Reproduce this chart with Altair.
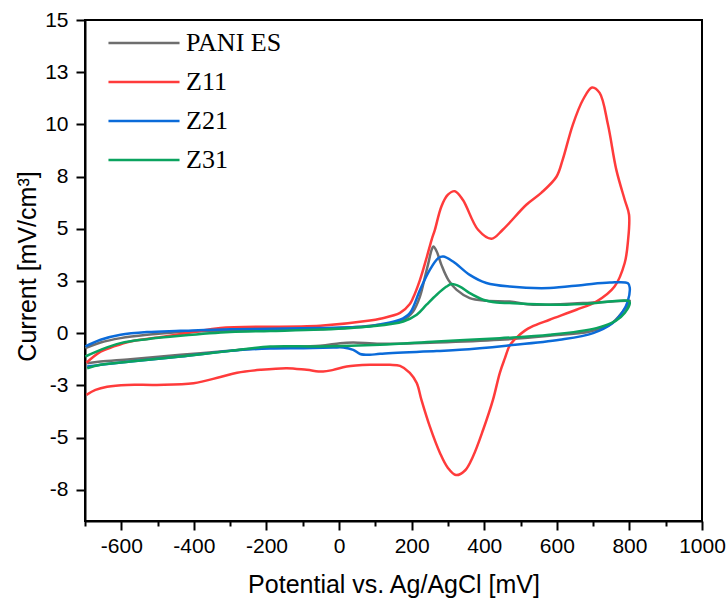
import altair as alt
import pandas as pd

SERIES = ["PANI ES", "Z11", "Z21", "Z31"]
COLORS = ["#6e6e6e", "#ff3b3b", "#0b6bd9", "#0ba35f"]

PANI_X = [-699, -657, -602, -529, -437, -300, -190, -52, 85, 177, 204, 223, 237, 246, 255, 260, 269, 282, 301, 324, 360, 406, 470, 535, 672, 791, 801,
          782, 746, 691, 580, 443, 269, 113, 39, 3, -52, -190, -327, -437, -575, -657, -694]
PANI_Y = [-0.72, -0.45, -0.24, -0.08, 0.05, 0.13, 0.15, 0.19, 0.35, 0.64, 1.04, 1.76, 2.71, 3.35, 3.99, 4.15, 3.91, 3.27, 2.55, 2.07, 1.68, 1.55, 1.51, 1.36, 1.44, 1.55, 1.55,
          1.04, 0.40, 0.08, -0.13, -0.32, -0.45, -0.51, -0.45, -0.48, -0.61, -0.69, -0.88, -1.04, -1.25, -1.36, -1.44]

Z11_X = [-696, -657, -622, -575, -484, -400, -327, -52, 85, 113, 168, 195, 204, 223, 242, 255, 264, 282, 300, 319, 341, 383, 420, 451, 516, 557, 599, 616, 644, 672, 697, 718, 741, 764, 787, 799,
         796, 787, 759, 709, 654, 580, 530, 512, 490, 470, 457, 443, 424, 397, 369, 347, 322, 300, 278, 250, 227, 214, 195, 168, 140, 85, 21, -16, -44, -89, -144, -217, -281, -327, -401, -502, -584, -639, -671, -696]
Z11_Y = [-1.42, -0.89, -0.65, -0.40, -0.17, 0.05, 0.25, 0.35, 0.60, 0.69, 0.97, 1.40, 1.69, 2.55, 3.66, 4.47, 4.95, 6.07, 6.63, 6.80, 6.39, 4.95, 4.52, 4.95, 6.15, 6.72, 7.49, 8.30, 9.98, 11.18, 11.77, 11.51, 9.98, 7.82, 6.39, 5.67,
         4.40, 3.36, 2.23, 1.51, 1.12, 0.64, 0.30, 0.12, -0.20, -0.60, -1.20, -1.90, -3.20, -4.63, -5.91, -6.58, -6.80, -6.46, -5.74, -4.47, -3.20, -2.39, -1.90, -1.57, -1.52, -1.52, -1.60, -1.76, -1.84, -1.76, -1.68, -1.76, -1.90, -2.10, -2.40, -2.48, -2.48, -2.57, -2.72, -2.96]

Z21_X = [-699, -657, -602, -529, -437, -300, -190, -52, 85, 113, 168, 195, 223, 250, 273, 287, 314, 360, 406, 470, 580, 672, 746, 796, 801,
         795, 782, 754, 700, 608, 461, 333, 269, 113, 85, 58, 39, 12, -16, -98, -190, -281, -437, -575, -657, -694]
Z21_Y = [-0.64, -0.32, -0.08, 0.05, 0.11, 0.19, 0.21, 0.25, 0.33, 0.42, 0.64, 0.96, 2.07, 3.03, 3.59, 3.67, 3.43, 2.79, 2.40, 2.23, 2.16, 2.31, 2.42, 2.39, 2.16,
         1.50, 1.04, 0.48, 0.00, -0.32, -0.60, -0.80, -0.86, -0.99, -1.04, -1.00, -0.80, -0.69, -0.69, -0.72, -0.74, -0.82, -1.12, -1.36, -1.52, -1.60]

Z31_X = [-699, -657, -602, -529, -437, -300, -190, -52, 85, 177, 214, 241, 269, 296, 310, 333, 360, 397, 434, 470, 580, 672, 796, 801,
         787, 763, 709, 580, 443, 269, 113, -52, -190, -300, -437, -575, -657, -694]
Z31_Y = [-1.12, -0.80, -0.48, -0.29, -0.13, 0.05, 0.10, 0.17, 0.32, 0.56, 0.88, 1.36, 1.84, 2.23, 2.35, 2.23, 1.92, 1.60, 1.47, 1.44, 1.36, 1.40, 1.55, 1.47,
         0.96, 0.60, 0.24, -0.08, -0.24, -0.40, -0.56, -0.64, -0.64, -0.85, -1.12, -1.36, -1.52, -1.68]

X_TICKS = [-700, -600, -500, -400, -300, -200, -100, 0, 100, 200, 300, 400, 500, 600, 700, 800, 900, 1000]
X_TICK_LABELS = ["", "-600", "", "-400", "", "-200", "", "0", "", "200", "", "400", "", "600", "", "800", "", "1000"]
Y_TICKS = [-7.5, -5, -2.5, 0, 2.5, 5, 7.5, 10, 12.5, 15]
Y_TICK_LABELS = ["-8", "-5", "-3", "0", "3", "5", "8", "10", "13", "15"]

rows = []
for name, xs, ys in [("PANI ES", PANI_X, PANI_Y), ("Z11", Z11_X, Z11_Y),
                     ("Z21", Z21_X, Z21_Y), ("Z31", Z31_X, Z31_Y)]:
    for i, (xv, yv) in enumerate(zip(xs, ys)):
        rows.append({"series": name, "x": xv, "y": yv, "i": i})
df = pd.DataFrame(rows)


def label_expr(values, labels):
    parts = [f"datum.value == {v} ? '{l}'" for v, l in zip(values, labels)]
    return " : ".join(parts) + " : ''"


MAJOR = [v for v, l in zip(X_TICKS, X_TICK_LABELS) if l != ""]
major_test = " || ".join(f"datum.value == {v}" for v in MAJOR)

chart = alt.Chart(df).mark_line(strokeWidth=2.5, interpolate="catmull-rom").encode(
    x=alt.X("x:Q",
            scale=alt.Scale(domain=[-700, 1000], nice=False, zero=False),
            axis=alt.Axis(values=X_TICKS, labelExpr=label_expr(X_TICKS, X_TICK_LABELS),
                          tickSize={"condition": {"test": major_test, "value": 9}, "value": 5},
                          labelPadding=5, labelOverlap=False, labelFlush=False,
                          title="Potential vs. Ag/AgCl [mV]", titleY=71, titleBaseline="alphabetic")),
    y=alt.Y("y:Q",
            scale=alt.Scale(domain=[-9, 15], nice=False, zero=False),
            axis=alt.Axis(values=Y_TICKS, labelExpr=label_expr(Y_TICKS, Y_TICK_LABELS),
                          tickSize=9, labelPadding=8, labelOverlap=False, labelFlush=False,
                          title="Current [mV/cm³]", titleX=-50, titleY=246,
                          titleAlign="center", titleBaseline="alphabetic")),
    color=alt.Color("series:N", scale=alt.Scale(domain=SERIES, range=COLORS),
                    legend=alt.Legend(title=None, orient="none", legendX=46, legendY=10,
                                      symbolType="M-5,0H5", symbolSize=202, symbolStrokeWidth=2.5,
                                      labelFont="Liberation Serif", labelFontSize=26, labelColor="black",
                                      labelOffset=29, rowPadding=13, padding=0)),
    order="i:Q",
).properties(
    width=617, height=501,
    padding={"left": 85, "top": 20, "right": 26, "bottom": 77},
    autosize="none",
    background="white",
).configure_view(
    stroke="black", strokeWidth=2
).configure_axis(
    grid=False, domainColor="black", domainWidth=2, tickColor="black", tickWidth=2,
    labelFont="Liberation Sans", labelFontSize=21, labelColor="black",
    titleFont="Liberation Sans", titleFontSize=25, titleFontWeight="normal", titleColor="black",
)

chart.save("out.html", embed_options={"renderer": "svg", "actions": False})
